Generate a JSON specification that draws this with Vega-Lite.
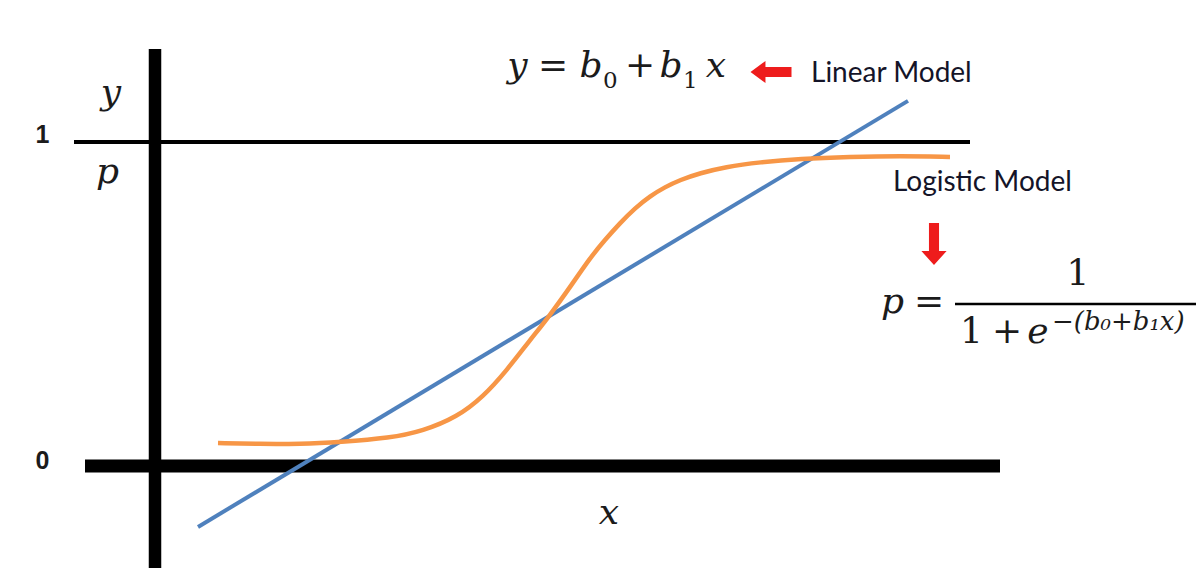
{
  "$schema": "https://vega.github.io/schema/vega-lite/v6.json",
  "width": 1196,
  "height": 568,
  "autosize": {"type": "none"},
  "padding": 0,
  "background": "white",
  "config": {"view": {"stroke": null}},
  "datasets": {
    "curves": [
      {"model": "linear", "u": 0.43, "v": -0.188},
      {"model": "linear", "u": 7.53, "v": 1.127},
      {"model": "logistic", "u": 0.63, "v": 0.071},
      {"model": "logistic", "u": 1.05, "v": 0.068},
      {"model": "logistic", "u": 1.45, "v": 0.068},
      {"model": "logistic", "u": 1.85, "v": 0.074},
      {"model": "logistic", "u": 2.35, "v": 0.086},
      {"model": "logistic", "u": 2.68, "v": 0.108},
      {"model": "logistic", "u": 3.02, "v": 0.151},
      {"model": "logistic", "u": 3.28, "v": 0.213},
      {"model": "logistic", "u": 3.52, "v": 0.296},
      {"model": "logistic", "u": 3.75, "v": 0.389},
      {"model": "logistic", "u": 3.93, "v": 0.457},
      {"model": "logistic", "u": 4.18, "v": 0.565},
      {"model": "logistic", "u": 4.35, "v": 0.642},
      {"model": "logistic", "u": 4.5, "v": 0.698},
      {"model": "logistic", "u": 4.65, "v": 0.75},
      {"model": "logistic", "u": 4.8, "v": 0.796},
      {"model": "logistic", "u": 4.95, "v": 0.833},
      {"model": "logistic", "u": 5.1, "v": 0.861},
      {"model": "logistic", "u": 5.25, "v": 0.883},
      {"model": "logistic", "u": 5.45, "v": 0.904},
      {"model": "logistic", "u": 5.7, "v": 0.923},
      {"model": "logistic", "u": 6.05, "v": 0.938},
      {"model": "logistic", "u": 6.45, "v": 0.948},
      {"model": "logistic", "u": 6.95, "v": 0.954},
      {"model": "logistic", "u": 7.45, "v": 0.957},
      {"model": "logistic", "u": 7.95, "v": 0.954}
    ]
  },
  "encoding": {
    "x": {"field": "u", "type": "quantitative", "scale": {"domain": [-1.55, 10.41], "nice": false, "zero": false}, "axis": null},
    "y": {"field": "v", "type": "quantitative", "scale": {"domain": [-0.3148, 1.4383], "nice": false, "zero": false}, "axis": null}
  },
  "layer": [
    {
      "data": {"values": [{"u": 0, "v": -0.3148, "v2": 1.287}]},
      "mark": {"type": "rule", "color": "black", "strokeWidth": 12.5},
      "encoding": {"y2": {"field": "v2"}}
    },
    {
      "data": {"values": [{"u": -0.81, "u2": 8.15, "v": 1}]},
      "mark": {"type": "rule", "color": "black", "strokeWidth": 4},
      "encoding": {"x2": {"field": "u2"}}
    },
    {
      "data": {"values": [{"u": -0.7, "u2": 8.45, "v": 0}]},
      "mark": {"type": "rule", "color": "black", "strokeWidth": 13},
      "encoding": {"x2": {"field": "u2"}}
    },
    {
      "data": {"values": [{"u": 8.0, "u2": 10.41, "v": 0.5}]},
      "mark": {"type": "rule", "color": "black", "strokeWidth": 2.5},
      "encoding": {"x2": {"field": "u2"}}
    },
    {
      "data": {"name": "curves"},
      "transform": [{"filter": "datum.model === 'linear'"}],
      "mark": {"type": "line", "color": "#4F81BD", "strokeWidth": 4},
      "encoding": {}
    },
    {
      "data": {"name": "curves"},
      "transform": [{"filter": "datum.model === 'logistic'"}],
      "mark": {"type": "line", "color": "#F79646", "strokeWidth": 4.5, "interpolate": "basis"},
      "encoding": {}
    },
    {
      "data": {"values": [{"u": 6.16, "v": 1.216}]},
      "mark": {"type": "point", "filled": true, "color": "#EE1C1C", "opacity": 1, "size": 1681, "strokeWidth": 0,
        "shape": "M-1,0L-0.27,-0.54L-0.27,-0.24L1,-0.24L1,0.24L-0.27,0.24L-0.27,0.54Z"}
    },
    {
      "data": {"values": [{"u": 7.79, "v": 0.685}]},
      "mark": {"type": "point", "filled": true, "color": "#EE1C1C", "opacity": 1, "size": 1764, "strokeWidth": 0,
        "shape": "M-0.24,-1L0.24,-1L0.24,0.33L0.6,0.33L0,1L-0.6,0.33L-0.24,0.33Z"}
    },
    {
      "data": {"values": [
        {"t": "y", "u": 3.625, "v": 1.2006},
        {"t": "b", "u": 4.36, "v": 1.2006},
        {"t": "b", "u": 5.16, "v": 1.2006},
        {"t": "x", "u": 5.61, "v": 1.2006},
        {"t": "y", "u": -0.44, "v": 1.1173},
        {"t": "p", "u": -0.475, "v": 0.8735},
        {"t": "p", "u": 7.375, "v": 0.4722},
        {"t": "e", "u": 8.83, "v": 0.3796},
        {"t": "x", "u": 4.54, "v": -0.179}
      ]},
      "mark": {"type": "text", "font": "DejaVu Serif", "fontStyle": "italic", "fontSize": 36, "align": "center", "baseline": "alphabetic", "color": "#1b1b1b"},
      "encoding": {"text": {"field": "t"}}
    },
    {
      "data": {"values": [
        {"t": "=", "u": 3.98, "v": 1.2006},
        {"t": "+", "u": 4.85, "v": 1.2006},
        {"t": "=", "u": 7.74, "v": 0.4722},
        {"t": "1", "u": 9.23, "v": 0.5586},
        {"t": "1", "u": 8.165, "v": 0.3796},
        {"t": "+", "u": 8.52, "v": 0.3796}
      ]},
      "mark": {"type": "text", "font": "DejaVu Serif", "fontSize": 36, "align": "center", "baseline": "alphabetic", "color": "#1b1b1b"},
      "encoding": {"text": {"field": "t"}}
    },
    {
      "data": {"values": [
        {"t": "0", "u": 4.48, "v": 1.1667},
        {"t": "1", "u": 5.28, "v": 1.1667}
      ]},
      "mark": {"type": "text", "font": "DejaVu Serif", "fontSize": 23, "align": "left", "baseline": "alphabetic", "color": "#1b1b1b"},
      "encoding": {"text": {"field": "t"}}
    },
    {
      "data": {"values": [{"t": "−(b₀+b₁x)", "u": 8.97, "v": 0.4198}]},
      "mark": {"type": "text", "font": "DejaVu Serif", "fontStyle": "italic", "fontSize": 26, "align": "left", "baseline": "alphabetic", "color": "#1b1b1b"},
      "encoding": {"text": {"field": "t"}}
    },
    {
      "data": {"values": [
        {"t": "Linear Model", "u": 6.56, "v": 1.1852},
        {"t": "Logistic Model", "u": 7.38, "v": 0.8488}
      ]},
      "mark": {"type": "text", "font": "Lato", "fontSize": 28, "align": "left", "baseline": "alphabetic", "color": "#141428"},
      "encoding": {"text": {"field": "t"}}
    },
    {
      "data": {"values": [
        {"t": "1", "u": -1.125, "v": 0.9969},
        {"t": "0", "u": -1.125, "v": -0.0093}
      ]},
      "mark": {"type": "text", "font": "Liberation Sans", "fontWeight": "bold", "fontSize": 25, "align": "center", "baseline": "alphabetic", "color": "#1b1b1b"},
      "encoding": {"text": {"field": "t"}}
    }
  ]
}
